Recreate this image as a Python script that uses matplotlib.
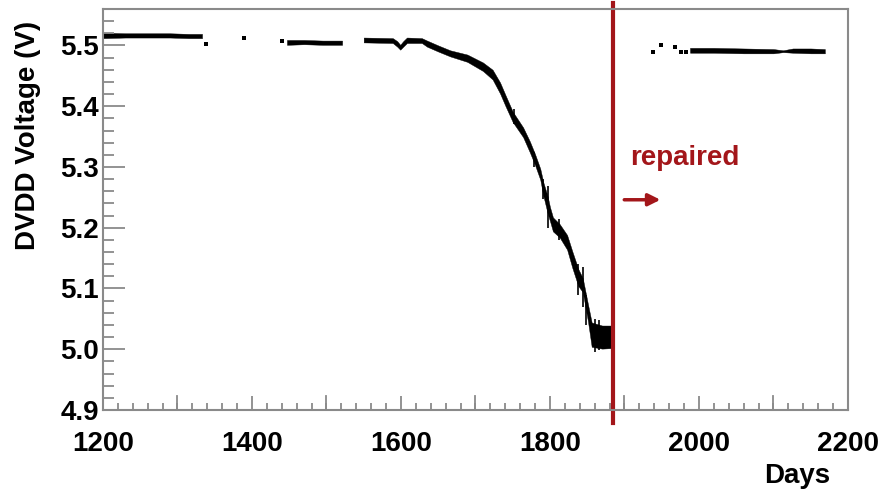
import matplotlib
matplotlib.use('Agg')
import matplotlib.pyplot as plt
from matplotlib.ticker import MultipleLocator

plt.rcParams['font.family'] = ['Liberation Sans', 'DejaVu Sans']
plt.rcParams['font.weight'] = 'bold'

# voltage band (min / max), per data segment
seg1_days = [1200, 1230, 1260, 1290, 1315, 1333]
seg1_lo = [5.512, 5.513, 5.513, 5.513, 5.512, 5.512]
seg1_hi = [5.521, 5.520, 5.520, 5.520, 5.519, 5.519]

seg2_days = [1447, 1470, 1495, 1521]
seg2_lo = [5.501, 5.502, 5.501, 5.501]
seg2_hi = [5.509, 5.509, 5.508, 5.508]

seg3_days = [1550, 1589, 1595, 1599, 1603, 1608, 1628, 1635, 1650, 1666, 1689,
             1710, 1723, 1733, 1740, 1750, 1764, 1773, 1780, 1787, 1791, 1797,
             1800, 1804, 1813, 1823, 1830, 1838, 1844, 1851, 1856, 1870, 1885]
seg3_lo = [5.505, 5.504, 5.498, 5.493, 5.498, 5.504, 5.504, 5.498, 5.490, 5.482, 5.473,
           5.458, 5.444, 5.421, 5.401, 5.374, 5.349, 5.324, 5.303, 5.279, 5.253, 5.223,
           5.211, 5.194, 5.184, 5.164, 5.134, 5.104, 5.094, 5.046, 5.004, 5.001, 5.002]
seg3_hi = [5.513, 5.512, 5.507, 5.501, 5.507, 5.513, 5.512, 5.508, 5.500, 5.492, 5.485,
           5.472, 5.460, 5.439, 5.419, 5.391, 5.365, 5.342, 5.321, 5.297, 5.275, 5.251,
           5.234, 5.217, 5.206, 5.188, 5.161, 5.132, 5.117, 5.074, 5.044, 5.039, 5.039]

seg4_days = [1988, 2020, 2060, 2100, 2113, 2126, 2150, 2169]
seg4_lo = [5.488, 5.488, 5.487, 5.487, 5.489, 5.488, 5.487, 5.487]
seg4_hi = [5.496, 5.496, 5.495, 5.494, 5.492, 5.495, 5.495, 5.494]

# noise spikes
spike_days = [1752, 1779, 1791, 1797, 1812, 1838, 1844, 1849, 1860, 1866]
spike_lo = [5.370, 5.300, 5.248, 5.200, 5.180, 5.090, 5.070, 5.040, 4.995, 4.998]
spike_hi = [5.395, 5.325, 5.280, 5.268, 5.215, 5.140, 5.135, 5.090, 5.050, 5.048]

# isolated readings
dot_days = [1338, 1389, 1440, 1938, 1949, 1968, 1976, 1982]
dot_volts = [5.503, 5.512, 5.508, 5.489, 5.500, 5.497, 5.489, 5.489]

repair_day = 1885
red = '#a3161a'
gray = '#8a8a8a'

fig = plt.figure(figsize=(8.8, 4.91), dpi=100)
ax = fig.add_axes([0.117, 0.165, 0.8466, 0.8167])

for d, lo, hi in [(seg1_days, seg1_lo, seg1_hi), (seg2_days, seg2_lo, seg2_hi),
                  (seg3_days, seg3_lo, seg3_hi), (seg4_days, seg4_lo, seg4_hi)]:
    ax.fill_between(d, lo, hi, color='black', lw=0.3, edgecolor='black')
ax.vlines(spike_days, spike_lo, spike_hi, color='black', lw=1.2)
ax.scatter(dot_days, dot_volts, s=5, marker='s', color='black', lw=0)

ax.axvline(repair_day, ymin=-0.033, ymax=1.015, color=red, lw=3, clip_on=False)
ax.text(1907, 5.314, 'repaired', color=red, fontsize=20, fontweight='bold',
        ha='left', va='center')
ax.annotate('', xy=(1952, 5.246), xytext=(1896, 5.246),
            arrowprops=dict(arrowstyle='-|>', color=red, lw=2.5, mutation_scale=18))

ax.set_xlim(1200, 2200)
ax.set_ylim(4.9, 5.56)
ax.set_xticks([1200, 1400, 1600, 1800, 2000, 2200])
ax.xaxis.set_minor_locator(MultipleLocator(20))
ax.yaxis.set_minor_locator(MultipleLocator(0.02))
ax.set_yticks([4.9, 5.0, 5.1, 5.2, 5.3, 5.4, 5.5])

# unlabeled major ticks at odd hundreds
for x in [1300, 1500, 1700, 1900, 2100]:
    ax.plot([x, x], [4.9, 4.9 + 0.66 * 14 / 401], color=gray, lw=1.3)

ax.tick_params(axis='both', which='both', direction='in', color=gray, width=1.3,
               labelsize=20, top=False, right=False)
ax.tick_params(axis='x', which='major', length=10, pad=15)
ax.tick_params(axis='x', which='minor', length=5)
ax.tick_params(axis='y', which='major', length=16, pad=3)
ax.tick_params(axis='y', which='minor', length=8)
for lab in ax.get_xticklabels() + ax.get_yticklabels():
    lab.set_fontweight('bold')
for sp in ax.spines.values():
    sp.set_color(gray)
    sp.set_linewidth(1.5)

fig.text(28 / 880, 1 - 135 / 491, 'DVDD Voltage (V)', rotation=90, fontsize=20,
         fontweight='bold', ha='center', va='center')
fig.text(830 / 880, 1 - 476 / 491, 'Days', fontsize=20, fontweight='bold',
         ha='right', va='center')

fig.savefig('out.png', dpi=100)
